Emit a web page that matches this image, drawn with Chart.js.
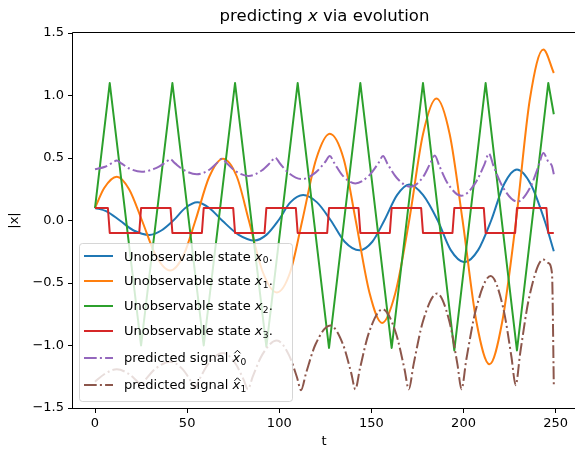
<!DOCTYPE html>
<html><head><meta charset="utf-8">
<script src="https://cdn.jsdelivr.net/npm/chart.js@4.4.1/dist/chart.umd.min.js"></script>
<style>html,body{margin:0;padding:0;background:#fff}canvas{display:block}</style>
</head><body>
<canvas id="c" width="575" height="452"></canvas>
<script>
// ---- data ----
const xTicks = [0, 50, 100, 150, 200, 250];
const yTicks = [-1.5, -1.0, -0.5, 0.0, 0.5, 1.0, 1.5];

const tX0 = [0,6,13.5,21,29.5,36,42.5,49,55.5,62,69,78,86.5,93,99.5,106,113,120.5,128,135.5,143.5,150.5,157,164,170.5,178,186,193,200.5,208,215,222,229,236.5,244,249];
const vX0 = [0.1,0.075,0,-0.08,-0.115,-0.08,0,0.1,0.146,0.1,0,-0.115,-0.16,-0.115,0,0.145,0.204,0.145,0,-0.17,-0.238,-0.17,0,0.205,0.289,0.205,0,-0.235,-0.333,-0.235,0,0.29,0.408,0.29,0,-0.246];

const tX1 = [0,5,11.8,18.5,25.5,33,40.8,48,54.5,62,69.4,77,83.5,91,98.7,106,112.5,120,127.4,135,141.5,149,155.8,163,170.5,178,185.3,192.5,199.5,207,214.1,221,228.5,236,243.3,249];
const vX1 = [0.1,0.26,0.35,0.25,0,-0.28,-0.40,-0.28,0,0.35,0.495,0.35,0,-0.41,-0.576,-0.41,0,0.49,0.694,0.49,0,-0.58,-0.82,-0.58,0,0.69,0.976,0.69,0,-0.81,-1.15,-0.81,0,0.97,1.368,1.18];

const tX2 = [0,8,25,42,59,76,93,110,127,144,161,178,195,212,229,246,249];
const vX2 = [0.1,1.1,-1.0,1.1,-1.0,1.1,-1.01,1.1,-1.02,1.1,-1.02,1.1,-1.04,1.1,-1.04,1.1,0.85];

const tX3 = [0,7,8,24,25,41,42,58,59,75,76,92,93,109,110,126,127,143,144,160,161,177,178,194,195,211,212,228,229,245,246,249];
const vX3 = [0.1,0.1,-0.1,-0.1,0.1,0.1,-0.1,-0.1,0.1,0.1,-0.1,-0.1,0.1,0.1,-0.1,-0.1,0.1,0.1,-0.1,-0.1,0.1,0.1,-0.1,-0.1,0.1,0.1,-0.1,-0.1,0.1,0.1,-0.1,-0.1];

const tP0 = [0,5.5,9.3,11.8,14.3,18.6,25.4,33.1,38.3,40.8,43.3,48,55.3,62.1,66.4,68.9,71.4,76.1,83.3,90.5,95.3,97.8,100.3,105,112.3,119.8,124.9,127.4,129.9,134.3,141.3,148.8,153.8,156.3,158.8,163.7,171.2,177.8,181.9,184.4,186.9,191.6,198.9,206.3,211.3,213.8,216.3,221.5,229.2,236.2,240.8,243.3,246,248,249];
const vP0 = [0.41,0.43,0.46,0.48,0.457,0.416,0.39,0.419,0.464,0.49,0.459,0.405,0.37,0.406,0.463,0.495,0.46,0.397,0.357,0.4,0.465,0.503,0.458,0.381,0.331,0.385,0.468,0.516,0.459,0.361,0.297,0.361,0.459,0.516,0.452,0.342,0.27,0.343,0.455,0.52,0.436,0.292,0.198,0.297,0.447,0.535,0.435,0.263,0.151,0.265,0.439,0.54,0.47,0.435,0.37];

const tP1 = [0,5,11.8,18.4,22.8,25,27.6,32.9,40.8,47.5,52,54.3,56.8,61.8,69.4,76.2,80.7,83,85.6,90.8,98.7,105.2,109.6,111.8,114.5,119.7,127.7,134.5,139,141.3,143.8,148.7,156.1,163.2,167.9,170.3,172.9,178,185.7,192.3,196.7,198.9,201.5,206.8,214.7,221.5,226,228.3,230.8,235.8,243.3,246,248,249];
const vP1 = [-1.29,-1.23,-1.19,-1.228,-1.286,-1.32,-1.27,-1.185,-1.13,-1.189,-1.285,-1.34,-1.267,-1.141,-1.06,-1.144,-1.275,-1.35,-1.249,-1.073,-0.96,-1.075,-1.254,-1.357,-1.223,-0.99,-0.84,-0.988,-1.217,-1.35,-1.184,-0.896,-0.71,-0.896,-1.184,-1.35,-1.151,-0.806,-0.584,-0.806,-1.151,-1.35,-1.114,-0.707,-0.444,-0.697,-1.09,-1.317,-1.056,-0.603,-0.312,-0.34,-0.42,-1.317];

const legendPrefix = ['Unobservable state ','Unobservable state ','Unobservable state ','Unobservable state ','predicted signal ','predicted signal '];
const legendSub = ['0','1','2','3','0','1'];
const legendHat = [false,false,false,false,true,true];
const legendSuffix = ['.','.','.','.','',''];
const titleParts = ['predicting ', 'x', ' via evolution'];

// ---- styling ----
const FONT = "'DejaVu Sans', sans-serif";
const colors = ['#1f77b4','#ff7f0e','#2ca02c','#d62728','#9467bd','#8c564b'];
const dashDot = [12.7,3.2,2,3.2];
const dashes = [[],[],[],[],dashDot,dashDot];

function pts(t, v){ return t.map((x,i)=>({x:x, y:v[i]})); }
const series = [[tX0,vX0],[tX1,vX1],[tX2,vX2],[tX3,vX3],[tP0,vP0],[tP1,vP1]];
const smooth = [true,true,false,false,true,true];

const datasets = series.map((s,i)=>({
  data: pts(s[0], s[1]),
  borderColor: colors[i],
  borderWidth: 2,
  borderDash: dashes[i],
  pointRadius: 0,
  fill: false,
  tension: smooth[i] ? 0.4 : 0,
  cubicInterpolationMode: smooth[i] ? 'monotone' : 'default',
  borderJoinStyle: 'round',
  borderCapStyle: 'butt',
  order: 6 - i
}));

const decor = {
  id: 'decor',
  afterDatasetsDraw(chart){
    const ctx = chart.ctx, a = chart.chartArea;
    ctx.save();
    // spines
    ctx.strokeStyle = '#000'; ctx.lineWidth = 1; ctx.setLineDash([]);
    ctx.beginPath();
    ctx.moveTo(a.left - 0.5, a.top - 0.5); ctx.lineTo(a.right + 1, a.top - 0.5);
    ctx.moveTo(a.left - 0.5, a.top - 0.5); ctx.lineTo(a.left - 0.5, a.bottom + 0.5);
    ctx.moveTo(a.left - 0.5, a.bottom + 0.5); ctx.lineTo(a.right + 1, a.bottom + 0.5);
    ctx.stroke();

    // title
    ctx.fillStyle = '#000'; ctx.textBaseline = 'alphabetic'; ctx.textAlign = 'left';
    const nf = '16.5px ' + FONT, itf = 'italic 16.5px ' + FONT;
    ctx.font = nf; const w0 = ctx.measureText(titleParts[0]).width, w2 = ctx.measureText(titleParts[2]).width;
    ctx.font = itf; const w1 = ctx.measureText(titleParts[1]).width;
    let tx = (a.left + 576) / 2 - (w0 + w1 + w2) / 2;
    ctx.font = nf; ctx.fillText(titleParts[0], tx, 21); tx += w0;
    ctx.font = itf; ctx.fillText(titleParts[1], tx, 21); tx += w1;
    ctx.font = nf; ctx.fillText(titleParts[2], tx, 21);

    // legend
    const L = 79.5, T = 243.5, R = 292.5, B = 401.5, r = 3;
    ctx.beginPath();
    ctx.moveTo(L + r, T); ctx.lineTo(R - r, T); ctx.quadraticCurveTo(R, T, R, T + r);
    ctx.lineTo(R, B - r); ctx.quadraticCurveTo(R, B, R - r, B);
    ctx.lineTo(L + r, B); ctx.quadraticCurveTo(L, B, L, B - r);
    ctx.lineTo(L, T + r); ctx.quadraticCurveTo(L, T, L + r, T);
    ctx.closePath();
    ctx.fillStyle = 'rgba(255,255,255,0.8)'; ctx.fill();
    ctx.strokeStyle = 'rgba(204,204,204,0.8)'; ctx.lineWidth = 1; ctx.stroke();

    const baselines = [260.5, 285.3, 310, 334.8, 361.8, 389.3];
    const fs = 13, sfs = 9.1;
    for (let i = 0; i < 6; i++){
      const yb = baselines[i], yl = Math.round(yb - 4.3);
      ctx.strokeStyle = colors[i]; ctx.lineWidth = 2; ctx.setLineDash(dashes[i]); ctx.lineCap = 'butt';
      ctx.beginPath(); ctx.moveTo(84, yl); ctx.lineTo(113, yl); ctx.stroke();
      ctx.setLineDash([]);
      ctx.fillStyle = '#000';
      let x = 124;
      ctx.font = fs + 'px ' + FONT; ctx.fillText(legendPrefix[i], x, yb); x += ctx.measureText(legendPrefix[i]).width;
      ctx.font = 'italic ' + fs + 'px ' + FONT; ctx.fillText('x', x, yb);
      const xw = ctx.measureText('x').width;
      if (legendHat[i]){
        const cx = x + xw / 2 + 1.2, top = yb - 11.5;
        ctx.strokeStyle = '#000'; ctx.lineWidth = 1;
        ctx.beginPath(); ctx.moveTo(cx - 3, top + 3); ctx.lineTo(cx, top); ctx.lineTo(cx + 3, top + 3); ctx.stroke();
      }
      x += xw + 0.3;
      ctx.font = sfs + 'px ' + FONT; ctx.fillText(legendSub[i], x, yb + 2.8); x += ctx.measureText(legendSub[i]).width + 0.3;
      ctx.font = fs + 'px ' + FONT; if (legendSuffix[i]) ctx.fillText(legendSuffix[i], x, yb);
    }
    ctx.restore();
  }
};

Chart.defaults.font.family = FONT;
Chart.defaults.font.size = 13;
Chart.defaults.color = '#000';

new Chart(document.getElementById('c'), {
  type: 'line',
  data: { datasets: datasets },
  options: {
    responsive: false,
    animation: false,
    devicePixelRatio: 1,
    layout: { padding: { top: 33, right: 0, left: 0, bottom: 0 } },
    plugins: { legend: { display: false }, title: { display: false }, tooltip: { enabled: false } },
    scales: {
      x: {
        type: 'linear', min: -11.94, max: 260.5,
        afterFit(s){ s.height = 44; },
        afterBuildTicks(s){ s.ticks = xTicks.map(v => ({ value: v })); },
        ticks: { autoSkip: false, maxRotation: 0, padding: 3, font: { size: 13 }, color: '#000', callback: v => String(v) },
        grid: { drawOnChartArea: false, drawTicks: true, tickLength: 5, color: '#000', lineWidth: 1 },
        border: { display: false },
        title: { display: true, text: 't', font: { size: 13 }, color: '#000', padding: { top: 0, bottom: 3 } }
      },
      y: {
        type: 'linear', min: -1.5, max: 1.5,
        afterFit(s){ s.width = 73; },
        afterBuildTicks(s){ s.ticks = yTicks.map(v => ({ value: v })); },
        ticks: { autoSkip: false, padding: 4, font: { size: 13 }, color: '#000',
                 callback: v => (v < 0 ? '\u2212' : '') + Math.abs(v).toFixed(1) },
        grid: { drawOnChartArea: false, drawTicks: true, tickLength: 5, color: '#000', lineWidth: 1 },
        border: { display: false },
        title: { display: true, text: '|x|', font: { size: 13 }, color: '#000', padding: { top: 7, bottom: 0 } }
      }
    }
  },
  plugins: [decor]
});
</script>
</body></html>
